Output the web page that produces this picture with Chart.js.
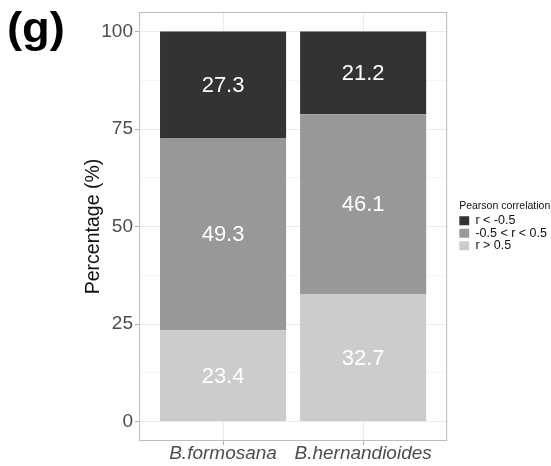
<!DOCTYPE html>
<html>
<head>
<meta charset="utf-8">
<script src="https://cdn.jsdelivr.net/npm/chart.js@4"></script>
<style>
  html, body { margin: 0; padding: 0; background: #fff; }
  #wrap { width: 551px; height: 466px; position: relative; }
</style>
</head>
<body>
<div id="wrap"><canvas id="myChart" width="551" height="466"></canvas></div>
<script>
const categories = ["B.formosana", "B.hernandioides"];
const seriesNames = ["r > 0.5", "-0.5 < r < 0.5", "r < -0.5"];
const positive = [23.4, 32.7];
const middle = [49.3, 46.1];
const negative = [27.3, 21.2];
const seriesColors = ["#cccccc", "#989898", "#333333"];
const yTicks = [0, 25, 50, 75, 100];
const yMinor = [12.5, 37.5, 62.5, 87.5];

const font = "'Liberation Sans', Arial, sans-serif";

function toPoints(vals) {
  return vals.map((v, i) => ({ x: i + 1, y: v }));
}

const data = {
  datasets: [positive, middle, negative].map((vals, k) => ({
    label: seriesNames[k],
    data: toPoints(vals),
    backgroundColor: seriesColors[k],
    borderWidth: 0,
    barPercentage: 0.9,
    categoryPercentage: 1,
  })),
};

// value labels in the middle of each segment
const valueLabels = {
  id: "valueLabels",
  afterDatasetsDraw(chart) {
    const ctx = chart.ctx;
    ctx.save();
    ctx.fillStyle = "#ffffff";
    ctx.font = "22px " + font;
    ctx.textAlign = "center";
    ctx.textBaseline = "middle";
    chart.data.datasets.forEach((ds, k) => {
      chart.getDatasetMeta(k).data.forEach((bar, i) => {
        const p = bar.getProps(["x", "y", "base"], true);
        ctx.fillText(ds.data[i].y.toFixed(1), p.x, (p.y + p.base) / 2 + 1);
      });
    });
    ctx.restore();
  },
};

// panel border + panel tag
const frame = {
  id: "frame",
  afterDraw(chart) {
    const a = chart.chartArea;
    const ctx = chart.ctx;
    ctx.save();
    ctx.strokeStyle = "#bdbdbd";
    ctx.lineWidth = 1;
    ctx.strokeRect(a.left + 0.5, a.top + 0.5, a.right - a.left - 1, a.bottom - a.top - 1);
    ctx.fillStyle = "#000";
    ctx.font = "bold 42px " + font;
    ctx.textAlign = "left";
    ctx.textBaseline = "alphabetic";
    ctx.translate(7, 42);
    ctx.scale(1.08, 1);
    ctx.fillText("(g)", 0, 0);
    ctx.restore();
  },
};

const config = {
  type: "bar",
  data: data,
  options: {
    responsive: false,
    animation: false,
    layout: { padding: { left: 82, top: 12, right: -6, bottom: 0 } },
    scales: {
      x: {
        type: "linear",
        stacked: true,
        min: 0.4,
        max: 2.6,
        offset: false,
        afterBuildTicks: (scale) => {
          scale.ticks = categories.map((c, i) => ({ value: i + 1 }));
        },
        afterFit: (scale) => { scale.height = 25; },
        ticks: {
          callback: (v) => categories[v - 1],
          color: "#4d4d4d",
          font: { family: font, size: 19, style: "italic" },
          padding: -3,
          maxRotation: 0,
          autoSkip: false,
        },
        grid: {
          offset: false,
          color: "#ebebeb",
          tickColor: "#b3b3b3",
          tickLength: 4,
        },
        border: { display: false },
      },
      y: {
        stacked: true,
        min: -5,
        max: 105,
        afterBuildTicks: (scale) => {
          scale.ticks = yTicks.concat(yMinor).sort((a, b) => a - b).map((v) => ({ value: v }));
        },
        afterFit: (scale) => { scale.width = 57; },
        ticks: {
          callback: (v) => (yTicks.includes(v) ? v : ""),
          color: "#4d4d4d",
          font: { family: font, size: 19, lineHeight: 1 },
          padding: 2,
          autoSkip: false,
        },
        grid: {
          color: (c) => (yTicks.includes(c.tick.value) ? "#ebebeb" : "#f5f5f5"),
          tickColor: (c) => (yTicks.includes(c.tick.value) ? "#b3b3b3" : "rgba(0,0,0,0)"),
          tickLength: 4,
        },
        border: { display: false },
        title: {
          display: true,
          text: "Percentage (%)",
          color: "#111",
          font: { family: font, size: 19.5 },
          padding: { top: 0, bottom: 0 },
        },
      },
      // empty strip between the panel and the legend
      gap: {
        type: "linear",
        position: "right",
        display: false,
        afterFit: (scale) => { scale.width = 12; },
      },
    },
    plugins: {
      legend: {
        position: "right",
        fullSize: false,
        reverse: true,
        title: {
          display: true,
          text: "Pearson correlation",
          position: "start",
          color: "#111",
          font: { family: font, size: 10.5 },
          padding: { top: 0, bottom: 1 },
        },
        labels: {
          boxWidth: 10,
          boxHeight: 9,
          padding: 0,
          color: "#111",
          font: { family: font, size: 12.5 },
        },
      },
      tooltip: { enabled: false },
    },
  },
  plugins: [valueLabels, frame],
};

const myChart = new Chart(document.getElementById("myChart"), config);
</script>
</body>
</html>
